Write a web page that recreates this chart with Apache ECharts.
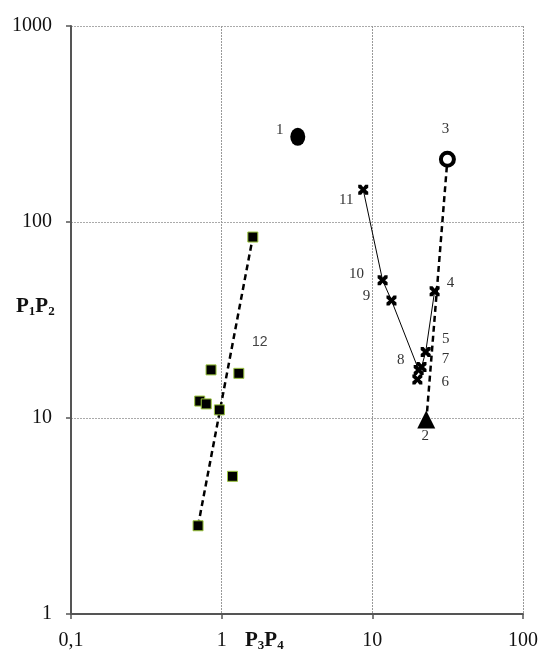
<!DOCTYPE html>
<html>
<head>
<meta charset="utf-8">
<script src="https://cdn.jsdelivr.net/npm/echarts@6/dist/echarts.min.js"></script>
<style>html,body{margin:0;padding:0;background:#fff}#c{width:541px;height:653px}</style>
</head>
<body>
<div id="c"></div>
<script>
// ---- data ----
const xTicks = [0.1, 1, 10, 100];
const xTickLabels = ['0,1', '1', '10', '100'];
const yTicks = [1, 10, 100, 1000];
const yTickLabels = ['1', '10', '100', '1000'];

const pt1 = [3.2, 272];           // filled circle "1"
const pt2 = [22.8, 9.6];          // triangle "2"
const pt3 = [31.5, 209];          // open circle "3"
const crossNames = ['11', '10', '9', '8', '7', '5', '4', '6'];
const crossX = [8.7, 11.7, 13.4, 20.3, 21.2, 22.6, 25.9, 19.9];
const crossY = [146, 50.4, 39.8, 17.6, 18.2, 21.7, 44.3, 15.7];
const crossPathOrder = ['11', '10', '9', '8', '7', '5', '4'];
const squareX = [1.61, 0.85, 1.30, 0.715, 0.79, 0.966, 1.18, 0.697];
const squareY = [83.8, 17.6, 16.9, 12.2, 11.8, 11.0, 5.04, 2.82];
const squareTrend = [[0.697, 2.82], [1.61, 83.8]];
const groupLabel = '12';

// ---- styles ----
const serif = 'Liberation Serif';
const crossPath = 'path://M0,0 L3,0 L5,2.5 L7,0 L10,0 L10,3 L7.5,5 L10,7 L10,10 L7,10 L5,7.5 L3,10 L0,10 L0,7 L2.5,5 L0,3 Z';
const lblOffsets = {
  '11': [-17, 10], '10': [-26, -6], '9': [-25, -4], '8': [-18, -10],
  '7': [24, -8], '5': [20, -13], '4': [16, -8], '6': [28, 2]
};

const chart = echarts.init(document.getElementById('c'));

const crossData = crossNames.map((n, i) => ({
  value: [crossX[i], crossY[i]],
  label: { show: true, formatter: n, position: 'inside', offset: lblOffsets[n] }
}));
const crossLine = crossPathOrder.map(n => {
  const i = crossNames.indexOf(n);
  return [crossX[i], crossY[i]];
});
const squareData = squareX.map((x, i) => {
  const d = { value: [x, squareY[i]] };
  if (i === 2) d.label = { show: true, formatter: groupLabel, position: 'inside', offset: [21, -31],
    fontFamily: 'Liberation Sans', fontSize: 14, color: '#444' };
  return d;
});

const ptLabel = { color: '#333', fontFamily: serif, fontSize: 15 };
const tickFmt = (ticks, labels) => v => {
  const i = ticks.findIndex(t => Math.abs(Math.log10(t) - Math.log10(v)) < 1e-6);
  return i >= 0 ? labels[i] : '';
};

chart.setOption({
  animation: false,
  backgroundColor: '#fff',
  grid: { left: 71, right: 18, top: 26, bottom: 39, show: false },
  title: [
    { text: '{b|P}{s|3}{b|P}{s|4}', left: 240, top: 624,
      textStyle: { rich: {
        b: { fontFamily: serif, fontWeight: 'bold', fontSize: 21, color: '#111' },
        s: { fontFamily: serif, fontWeight: 'bold', fontSize: 13, color: '#111', padding: [10, 0, 0, 0] } } } },
    { text: '{b|P}{s|1}{b|P}{s|2}', left: 11, top: 290,
      textStyle: { rich: {
        b: { fontFamily: serif, fontWeight: 'bold', fontSize: 21, color: '#111' },
        s: { fontFamily: serif, fontWeight: 'bold', fontSize: 13, color: '#111', padding: [10, 0, 0, 0] } } } }
  ],
  xAxis: {
    type: 'log', logBase: 10, min: 0.1, max: 100,
    axisLine: { show: true, lineStyle: { color: '#555', width: 2 } },
    axisTick: { show: true, length: 5, lineStyle: { color: '#555', width: 1.5 } },
    axisLabel: { margin: 17, fontFamily: serif, fontSize: 20, color: '#111',
      formatter: tickFmt(xTicks, xTickLabels), showMinLabel: true, showMaxLabel: true },
    splitLine: { show: true, lineStyle: { color: '#999', type: [2, 1], width: 1 } },
    minorTick: { show: false }
  },
  yAxis: {
    type: 'log', logBase: 10, min: 1, max: 1000,
    axisLine: { show: true, lineStyle: { color: '#555', width: 2 } },
    axisTick: { show: true, length: 5, lineStyle: { color: '#555', width: 1.5 } },
    axisLabel: { margin: 19, fontFamily: serif, fontSize: 20, color: '#111',
      formatter: tickFmt(yTicks, yTickLabels), showMinLabel: true, showMaxLabel: true },
    splitLine: { show: true, lineStyle: { color: '#aaa', type: [2, 1], width: 1 } }
  },
  series: [
    { type: 'line', data: squareTrend, symbol: 'none', z: 2,
      lineStyle: { color: '#000', width: 2.5, type: [6, 4] } },
    { type: 'line', data: [pt2, pt3], symbol: 'none', z: 2,
      lineStyle: { color: '#000', width: 2.5, type: [6, 4] } },
    { type: 'line', data: crossLine, symbol: 'none', z: 2,
      lineStyle: { color: '#000', width: 1 } },
    { type: 'scatter', data: squareData, symbol: 'rect', symbolSize: 10, z: 3,
      itemStyle: { color: '#000', borderColor: '#9bc53d', borderWidth: 1, opacity: 1 } },
    { type: 'scatter', data: crossData, symbol: crossPath, symbolSize: 10, z: 4,
      itemStyle: { color: '#000', opacity: 1 }, label: ptLabel },
    { type: 'scatter', data: [{ value: pt1, label: { show: true, formatter: '1', position: 'inside', offset: [-18, -7] } }],
      symbol: 'circle', symbolSize: [15, 18], z: 4, itemStyle: { color: '#000', opacity: 1 }, label: ptLabel },
    { type: 'scatter', data: [{ value: pt2, label: { show: true, formatter: '2', position: 'inside', offset: [-1, 17] } }],
      symbol: 'triangle', symbolSize: [18, 18], symbolOffset: [0, -2], z: 4, itemStyle: { color: '#000', opacity: 1 }, label: ptLabel },
    { type: 'scatter', data: [{ value: pt3, label: { show: true, formatter: '3', position: 'inside', offset: [-2, -30] } }],
      symbol: 'circle', symbolSize: 13, z: 4,
      itemStyle: { color: '#fff', borderColor: '#000', borderWidth: 4, opacity: 1 }, label: ptLabel }
  ]
});
</script>
</body>
</html>
